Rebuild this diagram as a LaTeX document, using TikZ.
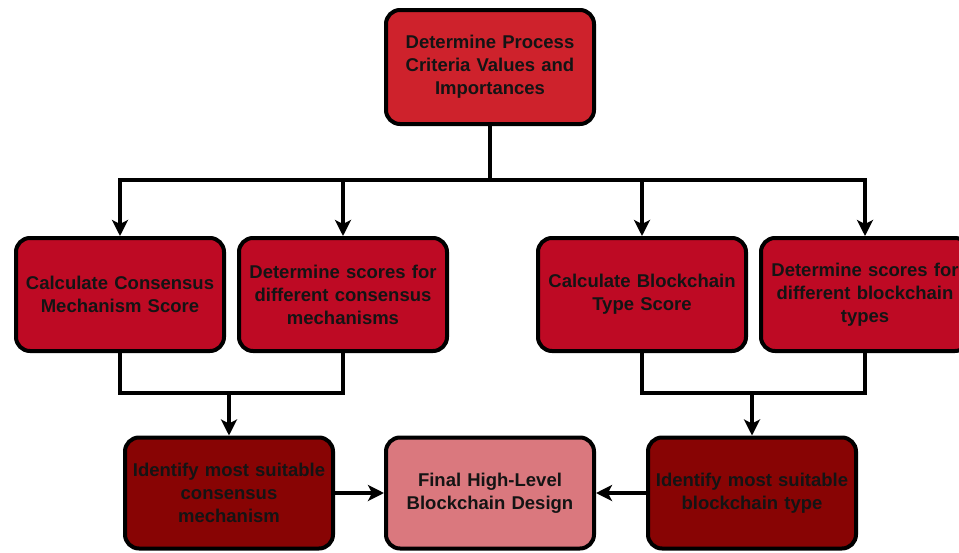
\documentclass[tikz,border=0pt]{standalone}
\usepackage{fontspec}
\setmainfont{Liberation Sans}
\usetikzlibrary{arrows.meta}
\definecolor{topred}{RGB}{206,34,44}
\definecolor{midred}{RGB}{190,10,36}
\definecolor{darkred}{RGB}{136,4,4}
\definecolor{lightred}{RGB}{218,120,126}
\definecolor{ink}{RGB}{20,20,20}
\tikzset{
  box/.style={draw=black, line width=4pt, rounded corners=14pt,
    minimum width=208pt, text width=206pt, align=center, inner sep=0pt,
    font=\fontsize{18.5pt}{23pt}\selectfont\bfseries, text=ink},
  topbox/.style={box, fill=topred, minimum height=114pt},
  midbox/.style={box, fill=midred, minimum height=113pt},
  resbox/.style={box, fill=darkred, minimum height=111pt},
  finbox/.style={box, fill=lightred, minimum height=111pt},
  link/.style={draw=black, line width=3.5pt},
  arr/.style={link, -{Stealth[length=16pt, width=16pt, inset=4pt]}}
}
\begin{document}
\begin{tikzpicture}[x=1pt, y=-1pt]
\useasboundingbox (0,0) rectangle (959,552);
\fill[white] (0,0) rectangle (959,552);

% process criteria
\node[topbox] (top) at (490,67) {Determine Process\\Criteria Values and\\Importances};

% scoring steps
\node[midbox] (c1) at (120,294.5) {Calculate Consensus\\Mechanism Score};
\node[midbox] (c2) at (343,294.5) {Determine scores for\\different consensus\\mechanisms};
\node[midbox] (c3) at (642,294.5) {Calculate Blockchain\\Type Score};
\node[midbox] (c4) at (865,294.5) {Determine scores for\\different blockchain\\types};

% selections and result
\node[resbox] (idc) at (229,493) {Identify most suitable\\consensus\\mechanism};
\node[finbox] (fin) at (490,493) {Final High-Level\\Blockchain Design};
\node[resbox] (idb) at (752,493) {Identify most suitable\\blockchain type};

% distribution bus from the top box
\coordinate (bus) at (490,180);
\draw[arr] (top.south) -- (bus) -| (c1.north);
\draw[arr] (top.south) -- (bus) -| (c2.north);
\draw[arr] (top.south) -- (bus) -| (c3.north);
\draw[arr] (top.south) -- (bus) -| (c4.north);

% merging into the selections
\coordinate (jl) at (229,393);
\coordinate (jr) at (752,393);
\draw[link] (c1.south) |- (jl);
\draw[link] (c2.south) |- (jl);
\draw[arr] (jl) -- (idc.north);
\draw[link] (c3.south) |- (jr);
\draw[link] (c4.south) |- (jr);
\draw[arr] (jr) -- (idb.north);

% into the final design
\draw[arr] (idc.east) -- (fin.west);
\draw[arr] (idb.west) -- (fin.east);
\end{tikzpicture}
\end{document}
